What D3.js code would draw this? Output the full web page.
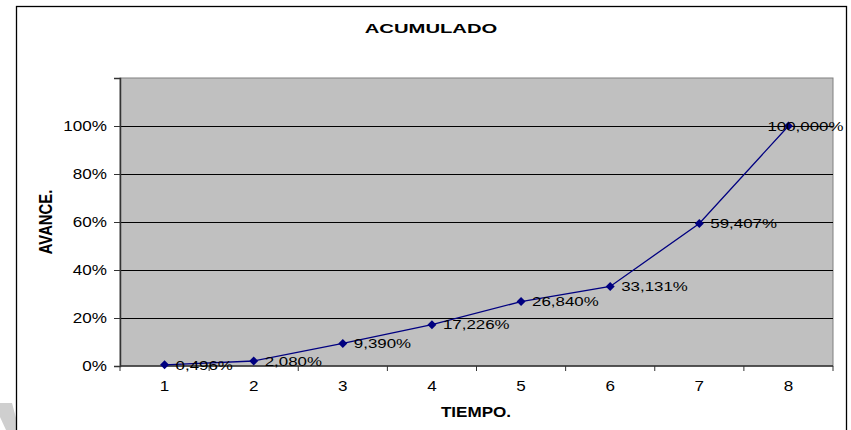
<!DOCTYPE html>
<html>
<head>
<meta charset="utf-8">
<script src="https://cdn.jsdelivr.net/npm/d3@7"></script>
<style>
  html, body { margin: 0; padding: 0; background: #fff; }
  svg { display: block; font-family: Arial, "Liberation Sans", sans-serif; }
</style>
</head>
<body>
<svg id="chart" width="851" height="430"></svg>
<script>
// ---- data ----
const categories = ["1", "2", "3", "4", "5", "6", "7", "8"];
const values = [0.496, 2.080, 9.390, 17.226, 26.840, 33.131, 59.407, 100.000];
const yTicks = [0, 20, 40, 60, 80, 100, 120];
const yTickLabels = ["0%", "20%", "40%", "60%", "80%", "100%", ""];
const chartTitle = "ACUMULADO";
const xTitle = "TIEMPO.";
const yTitle = "AVANCE.";

// ---- layout ----
const W = 851, H = 430;
const plot = { left: 120, right: 833, top: 78, bottom: 366 };
const frame = { left: 16.5, top: 6.5, right: 846.5 };

const svg = d3.select("#chart");

const x = d3.scaleBand().domain(categories).range([plot.left, plot.right]).padding(0);
const y = d3.scaleLinear().domain([0, 120]).range([plot.bottom, plot.top]);

function stretchedText(g, txt, px, py, opts) {
  const t = g.append("text")
    .attr("transform", `translate(${px},${py}) ${opts.rotate ? `rotate(${opts.rotate})` : ""} scale(${opts.sx || 1},${opts.sy || 1})`)
    .attr("text-anchor", opts.anchor || "start")
    .attr("font-size", opts.size + "px")
    .attr("font-weight", opts.weight || "normal")
    .attr("fill", opts.fill || "#000")
    .text(txt);
  return t;
}

// faint decoration at bottom-left
svg.append("path")
  .attr("d", "M0,403 L12,403 L16,418 L16,430 L6,430 L0,417 Z")
  .attr("fill", "#cfcfcf");

// outer frame
svg.append("rect")
  .attr("x", frame.left).attr("y", frame.top)
  .attr("width", frame.right - frame.left).attr("height", H + 10)
  .attr("fill", "none").attr("stroke", "#000").attr("stroke-width", 1.3);

// plot area
svg.append("rect")
  .attr("x", plot.left).attr("y", plot.top)
  .attr("width", plot.right - plot.left).attr("height", plot.bottom - plot.top)
  .attr("fill", "#c0c0c0").attr("stroke", "#808080").attr("stroke-width", 1);

// gridlines
svg.append("g").selectAll("line")
  .data(yTicks.filter(d => d > 0 && d < 120))
  .join("line")
  .attr("x1", plot.left).attr("x2", plot.right)
  .attr("y1", d => Math.round(y(d)) + 0.5).attr("y2", d => Math.round(y(d)) + 0.5)
  .attr("stroke", "#000").attr("stroke-width", 1);

// y axis
const yAxis = d3.axisLeft(y).tickValues(yTicks).tickSize(6).tickFormat("");
const gy = svg.append("g").attr("transform", `translate(${plot.left},0)`).call(yAxis);
gy.select(".domain").attr("stroke", "#333").attr("stroke-width", 1.5);
gy.selectAll(".tick line").attr("stroke", "#333");
yTicks.forEach((d, i) => {
  if (!yTickLabels[i]) return;
  stretchedText(svg, yTickLabels[i], 107, y(d) + 5, { size: 14, sx: 1.22, anchor: "end" });
});

// x axis
const xEdges = categories.map(c => x(c)).concat([plot.right]);
const gx = svg.append("g").attr("transform", `translate(0,${plot.bottom})`);
gx.append("line").attr("x1", plot.left).attr("x2", plot.right)
  .attr("y1", 0).attr("y2", 0).attr("stroke", "#333").attr("stroke-width", 1.5);
gx.selectAll("line.tk").data(xEdges).join("line").attr("class", "tk")
  .attr("x1", d => d).attr("x2", d => d).attr("y1", 0).attr("y2", 5)
  .attr("stroke", "#333");
categories.forEach(c => {
  stretchedText(svg, c, x(c) + x.bandwidth() / 2, 391, { size: 14, sx: 1.22, anchor: "middle" });
});

// line + markers
const pts = categories.map((c, i) => ({ c, v: values[i], px: x(c) + x.bandwidth() / 2, py: y(values[i]) }));
svg.append("path")
  .datum(pts)
  .attr("d", d3.line().x(d => d.px).y(d => d.py))
  .attr("fill", "none").attr("stroke", "#000080").attr("stroke-width", 1.3);

svg.append("g").selectAll("path")
  .data(pts).join("path")
  .attr("transform", d => `translate(${d.px},${d.py})`)
  .attr("d", "M0,-4.5 L4.5,0 L0,4.5 L-4.5,0 Z")
  .attr("fill", "#000080");

// data labels
const fmt = v => v.toFixed(3).replace(".", ",") + "%";
const lblSx = 1.3;
pts.forEach(d => {
  const t = stretchedText(svg, fmt(d.v), 0, 0, { size: 13, sx: lblSx });
  const w = t.node().getComputedTextLength() * lblSx;
  let lx = d.px + 11;
  if (lx + w > frame.right - 3) lx = frame.right - 3 - w;
  t.attr("transform", `translate(${lx},${d.py + 4.8}) scale(${lblSx},1)`);
});

// titles
stretchedText(svg, chartTitle, 431, 32.5, { size: 13.5, weight: "bold", sx: 1.5, anchor: "middle" });
stretchedText(svg, xTitle, 476, 416.5, { size: 14, weight: "bold", sx: 1.22, anchor: "middle" });
stretchedText(svg, yTitle, 51.5, 222, { size: 14, weight: "bold", rotate: -90, sx: 1.06, sy: 1.3, anchor: "middle" });
</script>
</body>
</html>
